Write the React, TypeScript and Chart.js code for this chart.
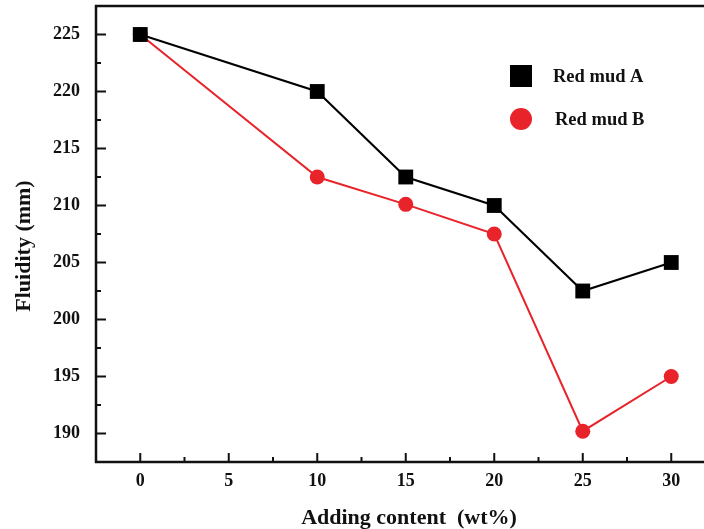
import React, { useEffect, useRef } from "react";
import { Chart, registerables } from "chart.js";

Chart.register(...registerables);

const xValues = [0, 10, 15, 20, 25, 30];
const redMudA = [225, 220, 212.5, 210, 202.5, 205];
const redMudB = [225, 212.5, 210.1, 207.5, 190.2, 195];
const xTicks = [0, 5, 10, 15, 20, 25, 30];
const yTicks = [190, 195, 200, 205, 210, 215, 220, 225];
const seriesNames = ["Red mud A", "Red mud B"];
const xTitle = "Adding content  (wt%)";
const yTitle = "Fluidity (mm)";

const FONT = "'Liberation Serif', 'Times New Roman', serif";

const framePlugin = {
  id: "frame",
  afterDraw(chart: any) {
    const { ctx, chartArea, scales } = chart;
    const { left, right, top, bottom } = chartArea;
    ctx.save();
    ctx.strokeStyle = "#111";
    ctx.lineCap = "butt";
    // frame
    ctx.lineWidth = 2.5;
    ctx.beginPath();
    ctx.moveTo(right + 2, top);
    ctx.lineTo(left, top);
    ctx.lineTo(left, bottom);
    ctx.lineTo(right + 2, bottom);
    ctx.stroke();
    // inner ticks
    ctx.lineWidth = 2;
    const xs = scales.x;
    const ys = scales.y;
    ctx.beginPath();
    xTicks.forEach((v, i) => {
      const px = xs.getPixelForValue(v);
      ctx.moveTo(px, bottom);
      ctx.lineTo(px, bottom - 9);
      if (i < xTicks.length - 1) {
        const m = xs.getPixelForValue((v + xTicks[i + 1]) / 2);
        ctx.moveTo(m, bottom);
        ctx.lineTo(m, bottom - 5);
      }
    });
    yTicks.forEach((v, i) => {
      const py = ys.getPixelForValue(v);
      ctx.moveTo(left, py);
      ctx.lineTo(left + 10, py);
      if (i < yTicks.length - 1) {
        const m = ys.getPixelForValue((v + yTicks[i + 1]) / 2);
        ctx.moveTo(left, m);
        ctx.lineTo(left + 5, m);
      }
    });
    ctx.stroke();

    // legend
    ctx.fillStyle = "#000";
    ctx.fillRect(510, 65, 22, 22);
    ctx.fillStyle = "#e8232a";
    ctx.beginPath();
    ctx.arc(521, 119, 11, 0, Math.PI * 2);
    ctx.fill();
    ctx.fillStyle = "#111";
    ctx.font = `bold 18.5px ${FONT}`;
    ctx.textBaseline = "middle";
    ctx.textAlign = "left";
    ctx.fillText(seriesNames[0], 553, 77);
    ctx.fillText(seriesNames[1], 555, 120);

    // axis titles
    ctx.font = `bold 22px ${FONT}`;
    ctx.textAlign = "center";
    ctx.fillText(xTitle, 409, 518);
    ctx.translate(24, 246);
    ctx.rotate(-Math.PI / 2);
    ctx.fillText(yTitle, 0, 0);
    ctx.restore();
  },
};

export default function App() {
  const ref = useRef<HTMLCanvasElement | null>(null);
  useEffect(() => {
    if (!ref.current) return;
    const chart = new Chart(ref.current, {
      type: "line",
      data: {
        datasets: [
          {
            label: seriesNames[0],
            data: xValues.map((x, i) => ({ x, y: redMudA[i] })),
            borderColor: "#000",
            backgroundColor: "#000",
            borderWidth: 2,
            pointStyle: "rect",
            pointRadius: 10.5,
            pointBorderWidth: 0,
          },
          {
            label: seriesNames[1],
            data: xValues.map((x, i) => ({ x, y: redMudB[i] })),
            borderColor: "#e8232a",
            backgroundColor: "#e8232a",
            borderWidth: 2,
            pointStyle: "circle",
            pointRadius: 7.5,
            pointBorderWidth: 0,
          },
        ],
      },
      options: {
        animation: false,
        responsive: false,
        layout: { autoPadding: false, padding: { top: 6, right: 0, left: 0, bottom: 0 } },
        plugins: { legend: { display: false }, tooltip: { enabled: false } },
        scales: {
          x: {
            type: "linear",
            min: -2.5,
            max: 31.85,
            afterBuildTicks: (s: any) => {
              s.ticks = xTicks.map((v) => ({ value: v }));
            },
            afterFit: (s: any) => {
              s.height = 67;
              s.paddingLeft = 0;
              s.paddingRight = 0;
            },
            grid: { display: false, drawTicks: false },
            border: { display: false },
            ticks: {
              color: "#111",
              padding: 9,
              font: { family: FONT, size: 18, weight: "bold" },
            },
          },
          y: {
            type: "linear",
            min: 187.5,
            max: 227.5,
            afterBuildTicks: (s: any) => {
              s.ticks = yTicks.map((v) => ({ value: v }));
            },
            afterFit: (s: any) => {
              s.width = 96;
              s.paddingTop = 0;
              s.paddingBottom = 0;
            },
            grid: { display: false, drawTicks: false },
            border: { display: false },
            ticks: {
              color: "#111",
              padding: 16,
              font: { family: FONT, size: 18, weight: "bold" },
            },
          },
        },
      },
      plugins: [framePlugin],
    } as any);
    return () => chart.destroy();
  }, []);
  return (
    <div style={{ position: "fixed", left: 0, top: 0, width: 704, height: 529, background: "#fff" }}>
      <canvas ref={ref} width={704} height={529} style={{ width: 704, height: 529, display: "block" }} />
    </div>
  );
}
